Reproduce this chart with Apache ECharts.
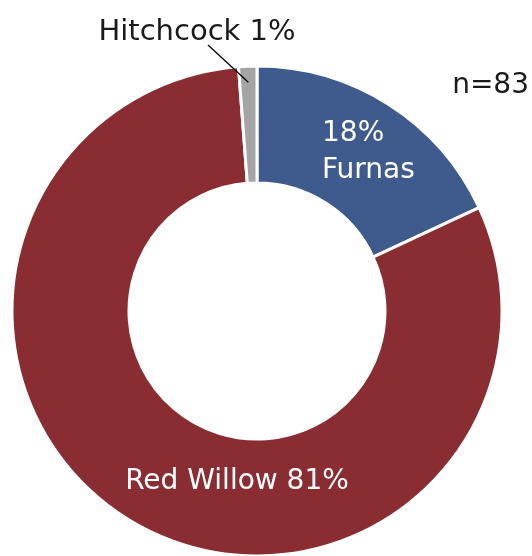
<!DOCTYPE html>
<html>
<head>
<meta charset="utf-8">
<script src="https://cdn.jsdelivr.net/npm/echarts@6/dist/echarts.min.js"></script>
<style>
html,body{margin:0;padding:0;background:#fff;}
#chart{width:532px;height:556px;}
</style>
</head>
<body>
<div id="chart"></div>
<script>
const categories = ['Furnas', 'Red Willow', 'Hitchcock'];
const counts = [15, 67, 1];
const colors = ['#3F5A8C', '#8A2D33', '#A5A5A5'];
const sampleNote = 'n=83';

const FONT = 'DejaVu Sans';
const CENTER = [257, 311];
const R_OUT = 245, R_IN = 128;
const chart = echarts.init(document.getElementById('chart'));

const total = counts.reduce((a, b) => a + b, 0);
// leader end point: middle of the Hitchcock slice, just inside the outer edge
const before = counts.slice(0, 2).reduce((a, b) => a + b, 0);
const midAng = (before + counts[2] / 2) / total * 2 * Math.PI;
const leaderEnd = [CENTER[0] + (R_OUT - 16) * Math.sin(midAng), CENTER[1] - (R_OUT - 16) * Math.cos(midAng)];

const data = categories.map((name, i) => {
  const item = { name: name, value: counts[i], itemStyle: { color: colors[i] } };
  if (i === 2) {
    item.label = { color: '#1a1a1a', fontSize: 29 };
  }
  return item;
});

chart.setOption({
  animation: false,
  graphic: [{
    type: 'text',
    right: 3,
    top: 72,
    style: { text: sampleNote, font: '28px "' + FONT + '"', fill: '#1a1a1a' }
  }, {
    type: 'line',
    z: 100,
    shape: { x1: 208, y1: 45, x2: leaderEnd[0], y2: leaderEnd[1] },
    style: { stroke: '#000', lineWidth: 1.3 }
  }],
  series: [{
    type: 'pie',
    center: CENTER,
    radius: [R_IN, R_OUT],
    startAngle: 90,
    clockwise: true,
    percentPrecision: 0,
    avoidLabelOverlap: false,
    itemStyle: { borderColor: '#fff', borderWidth: 3 },
    label: {
      show: true,
      position: 'inside',
      color: '#fff',
      fontFamily: FONT,
      fontSize: 28,
      lineHeight: 37,
      formatter: function (p) {
        if (p.dataIndex === 0) return p.percent + '%\n' + p.name;
        return p.name + ' ' + p.percent + '%';
      }
    },
    labelLine: { show: false },
    labelLayout: function (p) {
      if (p.dataIndex === 0) return { x: 322, y: 115, align: 'left', verticalAlign: 'top' };
      if (p.dataIndex === 1) return { x: 237, y: 482, align: 'center', verticalAlign: 'middle' };
      return { x: 197, y: 32, align: 'center', verticalAlign: 'middle' };
    },
    emphasis: { disabled: true },
    data: data
  }]
});
</script>
</body>
</html>
